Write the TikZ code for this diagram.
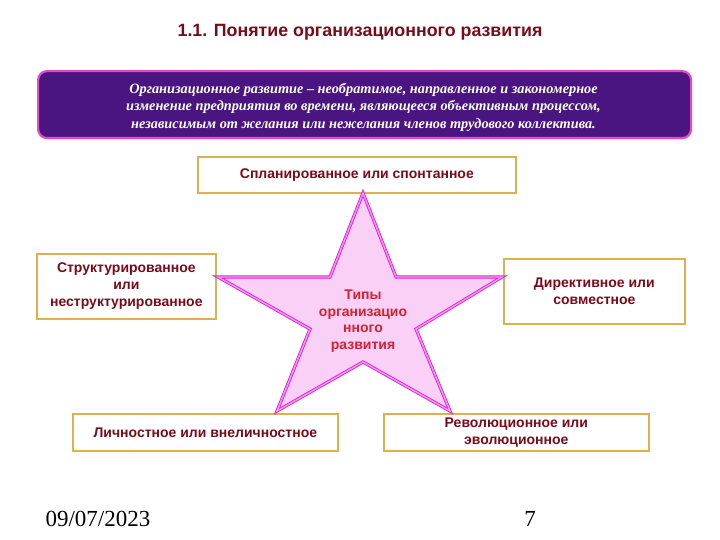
\documentclass[tikz,border=0pt]{standalone}
\usepackage{fontspec}
\setmainfont{Liberation Serif}
\setsansfont{Liberation Sans}
\newfontfamily\boxfont{Liberation Sans}
\definecolor{boxline}{HTML}{E0B04C}
\definecolor{darkred}{HTML}{7A0A18}
\definecolor{starred}{HTML}{D42030}
\definecolor{starfill}{HTML}{FAD0F6}
\definecolor{starline}{HTML}{E020DC}
\definecolor{bannerfill}{HTML}{4A1580}
\definecolor{bannerline}{HTML}{E548C8}
\begin{document}
\begin{tikzpicture}[x=1pt,y=-1pt,
  typebox/.style={draw=boxline, line width=1.7pt, fill=white, inner sep=0pt, anchor=north west,
    font=\boxfont\bfseries\fontsize{14}{17}\selectfont, text=darkred, align=center},
]
\useasboundingbox (0,0) rectangle (720,540);
% title
\node[font=\sffamily\bfseries\fontsize{17.8}{20}\selectfont, text=darkred] (title) at (360,32) {1.1. Понятие организационного развития};
% banner
\node[draw=bannerline, line width=2.2pt, fill=bannerfill, rounded corners=9pt, minimum width=653pt, minimum height=67pt, anchor=north west, inner sep=0pt] (banner) at (37,70) {};
\node[text=white, font=\rmfamily\bfseries\itshape\fontsize{14.3}{17.5}\selectfont, align=center] (def) at (363.5,107) {Организационное развитие -- необратимое, направленное и закономерное\\изменение предприятия во времени, являющееся объективным процессом,\\независимым от желания или нежелания членов трудового коллектива.};
% boxes
\node[typebox, minimum width=318pt, minimum height=36pt] (top) at (197,156) {Спланированное или спонтанное};
\node[typebox, minimum width=179pt, minimum height=65pt] (left) at (36,253) {Структурированное\\или\\неструктурированное};
\node[typebox, minimum width=181pt, minimum height=65pt] (right) at (503,258) {Директивное или\\совместное};
\node[typebox, minimum width=265pt, minimum height=37pt] (bl) at (72,413) {Личностное или внеличностное};
\node[typebox, minimum width=265pt, minimum height=37pt] (br) at (383,413) {Революционное или\\эволюционное};
% star
\draw[draw=starline, line width=0.9pt, double=starline!45!white, double distance=1.4pt, fill=starfill, line join=miter]
  (363,193) -- (396,277) -- (502,277) -- (416,329) -- (450,411) -- (363,362)
  -- (277,411) -- (310,329) -- (218,277) -- (330,277) -- cycle;
\node[font=\boxfont\bfseries\fontsize{14}{16.7}\selectfont, text=starred, align=center] (startext) at (363,321) {Типы\\организацио\\нного\\развития};
% footer
\node[font=\rmfamily\fontsize{23}{26}\selectfont, anchor=west] (date) at (42,519) {09/07/2023};
\node[font=\rmfamily\fontsize{23}{26}\selectfont] (page) at (530,519) {7};
\end{tikzpicture}
\end{document}
